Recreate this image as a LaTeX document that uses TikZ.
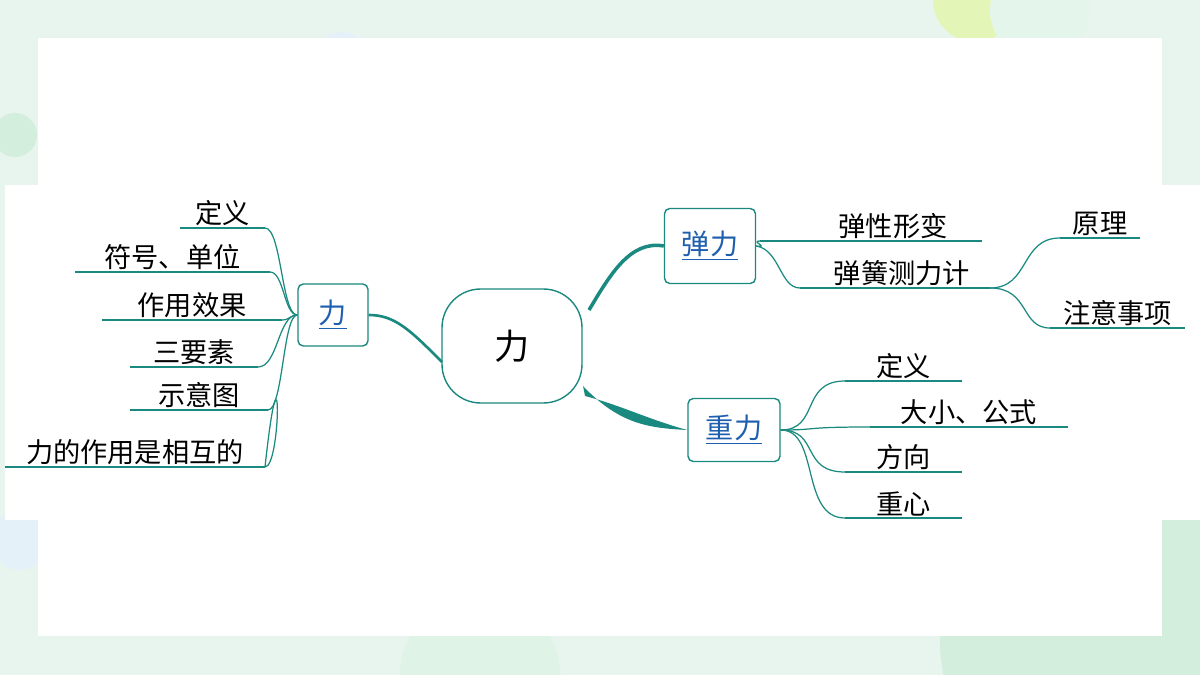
\documentclass[tikz,border=0pt]{standalone}
\usepackage{fontspec}
\setmainfont{Noto Sans CJK SC}
\usetikzlibrary{calc}
\definecolor{teal1}{HTML}{1A8A80}
\definecolor{mint}{HTML}{E8F5EE}
\definecolor{mint2}{HTML}{D3EEDD}
\definecolor{mint3}{HTML}{E4F1F8}
\definecolor{lime}{HTML}{E4F5B8}
\definecolor{linkblue}{HTML}{1F5FAF}
\tikzset{
  box/.style={draw=teal1,line width=0.8pt,rounded corners=3pt,inner sep=0pt},
  leaf/.style={anchor=south,inner sep=1pt,font=\fontsize{15.5}{17}\selectfont},
  uline/.style={draw=teal1,line width=0.6pt},
  branch/.style={draw=teal1,line width=0.7pt}
}
\begin{document}
\begin{tikzpicture}[x=0.02cm,y=-0.02cm,>=latex]
		\useasboundingbox (0,0) rectangle (1200,675);
		% background
		\fill[mint] (0,0) rectangle (1200,675);
		\fill[mint2] (15,135) circle (22);
		\fill[mint3] (342,62) circle (30);
		\fill[lime] (975,0) circle (42);
		\fill[mint2!60] (1040,10) circle (50);
		\fill[mint2] (1120,640) circle (180);
		\fill[mint3] (20,540) circle (30);
		\fill[mint2!70] (480,675) circle (80);
		\fill[white] (38,38) rectangle (1162,636);
		\fill[white] (5,185) rectangle (1200,520);

		% center
		\node[box,rounded corners=22pt,minimum width=2.8cm,minimum height=2.28cm,font=\fontsize{20}{22}\selectfont] (li) at (512,346) {力};
		\coordinate (lia) at (442,362);
		\coordinate (lib) at (589,310);
		\coordinate (lic) at (583,386);
		\coordinate (lid) at (585,396);

		% main topics
		\node[box,minimum width=1.4cm,minimum height=1.24cm,text=linkblue,font=\fontsize{16}{18}\selectfont] (lf) at (333,315) {\underline{力}};
		\node[box,minimum width=1.82cm,minimum height=1.5cm,text=linkblue,font=\fontsize{16}{18}\selectfont] (tl) at (710,246) {\underline{弹力}};
		\node[box,minimum width=1.84cm,minimum height=1.26cm,text=linkblue,font=\fontsize{16}{18}\selectfont] (zl) at (734,430) {\underline{重力}};

		\draw[branch,line width=1.5pt] (lia) .. controls (410,330) and (395,315) .. (lf.east);
		\draw[branch,line width=2pt] (lib) .. controls (610,275) and (630,240) .. (tl.west);
		\fill[teal1] (lic) .. controls (620,425) and (650,428) .. (zl.west)
			.. controls (650,420) and (620,405) .. (lid) -- cycle;

		% left leaves
		\foreach \t/\y/\a/\b/\n in {定义/228/180/265/a, 符号、单位/272/75/270/b, 作用效果/320/102/282/c,
			三要素/367/130/258/d, 示意图/410/130/268/e, 力的作用是相互的/467/5/265/f}{
			\coordinate (l\n) at (\b,\y);
			\draw[uline] (\a,\y) -- (l\n);
			\node[leaf] (tl\n) at ({(\a+\b)/2},\y) {\t};
			\draw[branch] (lf.west) .. controls ({(\b+298)/2},315) and ({(\b+298)/2},\y) .. (l\n);
		}

		% elastic force
		\coordinate (ea) at (760,241);
		\coordinate (eb) at (800,288);
		\draw[uline] (ea) -- (982,241);
		\draw[uline] (eb) -- (990,288);
		\node[leaf] (e1) at (893,241) {弹性形变};
		\node[leaf] (e2) at (902,288) {弹簧测力计};
		\draw[branch] (tl.east) .. controls (770,248) and (750,241) .. (ea);
		\draw[branch] (tl.east) .. controls (780,250) and (780,288) .. (eb);
		\coordinate (ec) at (990,288);
		\foreach \t/\y/\a/\b/\n in {原理/238/1060/1140/a, 注意事项/328/1050/1185/b}{
			\coordinate (r\n) at (\a,\y);
			\draw[uline] (r\n) -- (\b,\y);
			\node[leaf] (tr\n) at ({(\a+\b)/2},\y) {\t};
			\draw[branch] (ec) .. controls (1030,288) and (1020,\y) .. (r\n);
		}

		% gravity
		\foreach \t/\y/\a/\b/\n in {定义/381/845/962/a, 大小、公式/427/870/1068/b, 方向/472/845/962/c, 重心/518/845/962/d}{
			\coordinate (g\n) at (\a,\y);
			\draw[uline] (g\n) -- (\b,\y);
			\node[leaf] (tg\n) at ({(\a+\b)/2},\y) {\t};
			\draw[branch] (zl.east) .. controls (820,430) and (800,\y) .. (g\n);
		}
	\end{tikzpicture}
\end{document}
